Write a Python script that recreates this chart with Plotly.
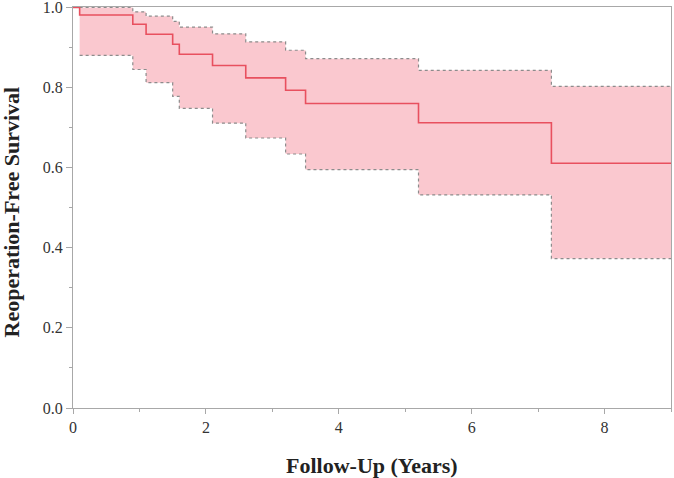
import plotly.graph_objects as go

# Kaplan-Meier step data
time = [0.0, 0.1, 0.9, 1.1, 1.5, 1.6, 2.1, 2.6, 3.2, 3.5, 5.2, 7.2, 9.0]
survival = [1.0, 0.981, 0.958, 0.933, 0.908, 0.883, 0.855, 0.824, 0.793, 0.760, 0.712, 0.611, 0.611]

ci_time = [0.1, 0.9, 1.1, 1.5, 1.6, 2.1, 2.6, 3.2, 3.5, 5.2, 7.2, 9.0]
ci_upper = [1.0, 0.989, 0.978, 0.965, 0.951, 0.934, 0.914, 0.893, 0.872, 0.843, 0.803, 0.803]
ci_lower = [0.880, 0.845, 0.812, 0.778, 0.748, 0.711, 0.674, 0.634, 0.595, 0.532, 0.373, 0.373]

x_ticks = [0, 2, 4, 6, 8]
y_ticks = [0.0, 0.2, 0.4, 0.6, 0.8, 1.0]
y_tick_labels = ["0.0", "0.2", "0.4", "0.6", "0.8", "1.0"]

FILL = "#FAC8CF"
LINE = "#E8505F"
DOT = "#8C8C8C"
AX = "#A8A8A8"

fig = go.Figure()
fig.add_trace(go.Scatter(x=ci_time, y=ci_lower, mode="lines", line=dict(shape="hv", color=DOT, width=1.2, dash="dot"),
                         showlegend=False, hoverinfo="skip"))
fig.add_trace(go.Scatter(x=ci_time, y=ci_upper, mode="lines", line=dict(shape="hv", color=DOT, width=1.2, dash="dot"),
                         fill="tonexty", fillcolor=FILL, showlegend=False, hoverinfo="skip"))
fig.add_trace(go.Scatter(x=time, y=survival, mode="lines", line=dict(shape="hv", color=LINE, width=1.6),
                         showlegend=False))

font_family = "Liberation Serif"
fig.update_layout(
    width=674, height=478,
    margin=dict(l=73, r=3, t=7, b=70),
    paper_bgcolor="white", plot_bgcolor="white",
    font=dict(family=font_family, color="#333333", size=16),
    annotations=[
        dict(text="<b>Follow-Up (Years)</b>", xref="paper", yref="paper", x=0.5, y=0,
             xanchor="center", yanchor="middle", yshift=-57, showarrow=False,
             font=dict(size=22, color="#222222", family=font_family)),
        dict(text="<b>Reoperation-Free Survival</b>", xref="paper", yref="paper", x=0, y=0.5,
             xanchor="center", yanchor="middle", xshift=-62, yshift=-5, textangle=-90, showarrow=False,
             font=dict(size=22, color="#222222", family=font_family)),
    ],
)
fig.update_xaxes(
    range=[0, 9], tickvals=x_ticks, ticks="outside", ticklen=5, tickcolor=AX, automargin=False,
    ticklabeloverflow="allow",
    showline=True, linecolor=AX, linewidth=1, mirror=True, showgrid=False, zeroline=False,
    minor=dict(dtick=1, tick0=0, ticks="outside", ticklen=3, tickcolor=AX, showgrid=False),
    tickfont=dict(size=16, color="#333333"),
)
fig.update_yaxes(
    range=[0, 1.001], tickvals=y_ticks, ticktext=y_tick_labels, ticks="outside", ticklen=6, tickcolor=AX,
    automargin=False, ticklabeloverflow="allow",
    showline=True, linecolor=AX, linewidth=1, mirror=True, showgrid=False, zeroline=False,
    minor=dict(dtick=0.1, tick0=0, ticks="outside", ticklen=3, tickcolor=AX, showgrid=False),
    tickfont=dict(size=16, color="#333333"),
)

fig.write_html("out.html", config={"displayModeBar": False},
               post_script="document.body.style.margin='0';document.body.style.overflow='hidden';")
